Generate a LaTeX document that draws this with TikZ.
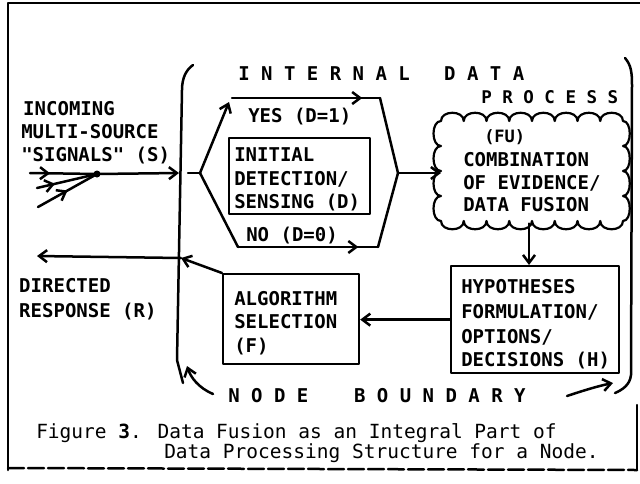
\documentclass[tikz,border=0pt]{standalone}
\usepackage{fontspec}
\newfontfamily\lab{DejaVu Sans Mono}[Ligatures=TeXOff]
\usetikzlibrary{arrows.meta,decorations.markings}
\begin{document}
\begin{tikzpicture}[x=1pt,y=-1pt,line width=2.5pt,line join=round,line cap=round,
  tipend/.style={-{Straight Barb[length=8pt,width=12pt]}},
  midtip/.style={postaction={decorate,decoration={markings,mark=at position #1 with {\arrow{Straight Barb[length=8pt,width=12pt]}}}}},
  lbl/.style={anchor=base west,inner sep=0pt,font=\lab\bfseries\fontsize{19}{23}\selectfont},
  captxt/.style={anchor=base west,inner sep=0pt,font=\lab\fontsize{19.5}{23}\selectfont},
  box/.style={draw,line width=2.2pt,inner sep=0pt,anchor=north west},
  area/.style={inner sep=0pt,anchor=north west}]
\useasboundingbox (0,0) rectangle (640,483);
% outer frame
\draw (8,470) -- (8,3) -- (640,3);
\draw (637,405) -- (637,470);
\draw[dash pattern=on 16pt off 4pt] (8,468) -- (637,470);
% node boundary brackets
\draw (193,65) .. controls (186,70) and (182,78) .. (182,90) -- (177,360) -- (183,383);
\draw (625,58) .. controls (631,65) and (632,72) .. (632,85) -- (631,375) .. controls (630,385) and (622,390) .. (615,393);
% texts
\node[lbl] (t1) at (22,115) {INCOMING};
\node[lbl] (t2) at (20,138) {MULTI-SOURCE};
\node[lbl] (t3) at (20,161) {"SIGNALS" (S)};
\node[lbl] (t4) at (237,80) {I N T E R N A L\ \ \ D A T A};
\node[lbl,font=\lab\bfseries\fontsize{17.5}{20}\selectfont] (t5) at (480,103) {P R O C E S S};
\node[lbl] (yes) at (247,122) {YES (D=1)};
\node[lbl] (no) at (245,241) {NO (D=0)};
\node[lbl] (d1) at (233,161) {INITIAL};
\node[lbl] (d2) at (233,185) {DETECTION/};
\node[lbl] (d3) at (233,208) {SENSING (D)};
\node[lbl,font=\lab\bfseries\fontsize{17}{20}\selectfont] (f0) at (483,142) {(FU)};
\node[lbl] (f1) at (462,166) {COMBINATION};
\node[lbl] (f2) at (462,189) {OF EVIDENCE/};
\node[lbl] (f3) at (462,211) {DATA FUSION};
\node[lbl] (h1) at (460,293) {HYPOTHESES};
\node[lbl] (h2) at (460,318) {FORMULATION/};
\node[lbl] (h3) at (460,343) {OPTIONS/};
\node[lbl] (h4) at (460,366) {DECISIONS (H)};
\node[lbl] (a1) at (233,305) {ALGORITHM};
\node[lbl] (a2) at (233,328) {SELECTION};
\node[lbl] (a3) at (233,352) {(F)};
\node[lbl] (r1) at (18,292) {DIRECTED};
\node[lbl] (r2) at (18,317) {RESPONSE (R)};
\node[lbl] (nb) at (227,402) {N O D E\ \ \ \ B O U N D A R Y};
\node[captxt] (c1) at (35,438) {Figure \textbf{3}. Data Fusion as an Integral Part of};
\node[captxt] (c2) at (163,458) {Data Processing Structure for a Node.};
% boxes
\node[box,minimum width=141pt,minimum height=76pt] (det) at (228,137) {};
\node[box,minimum width=136pt,minimum height=90pt] (alg) at (222,273) {};
\node[box,minimum width=168pt,minimum height=107pt] (hyp) at (450,265) {};
\node[area,minimum width=182pt,minimum height=100pt] (fu) at (441,121) {};
% scalloped outline of the fusion cloud
\draw[line width=2.2pt] (441,121)
  foreach \i in {0,...,7} { .. controls ({441+\i*22.75},110) and ({441+(\i+1)*22.75},110) .. ({441+(\i+1)*22.75},121) }
  foreach \j in {0,...,3} { .. controls (632,{121+\j*25}) and (632,{121+(\j+1)*25}) .. (623,{121+(\j+1)*25}) }
  foreach \i in {0,...,7} { .. controls ({623-\i*22.75},232) and ({623-(\i+1)*22.75},232) .. ({623-(\i+1)*22.75},221) }
  foreach \j in {0,...,3} { .. controls (431,{221-\j*25}) and (431,{221-(\j+1)*25}) .. (441,{221-(\j+1)*25}) }
  -- cycle;
% coordinates
\coordinate (s1) at (30,173);
\coordinate (s2) at (37,188);
\coordinate (s3) at (38,207);
\coordinate (J) at (97,174);
\coordinate (Bin) at (179,173);
\coordinate (Bout) at (188,173);
\coordinate (Br) at (200,173);
\coordinate (Yt) at (229,102);
\coordinate (Y1) at (232,98);
\coordinate (Y2) at (380,98);
\coordinate (N1) at (238,247);
\coordinate (N2) at (378,247);
\coordinate (M) at (398,173);
\coordinate (Bret) at (181,258);
\coordinate (Rend) at (37,256);
\coordinate (nbL1) at (213,394);
\coordinate (nbL2) at (187,366);
\coordinate (nbR1) at (567,396);
\coordinate (nbR2) at (613,383);
% incoming signals
\draw[midtip=0.3] (s1) -- (J);
\draw[midtip=0.3] (s2) -- (J);
\draw[midtip=0.5] (s3) -- (J);
\fill (J) circle (3.5pt);
\draw[tipend] (J) -- (Bin);
% detection branches
\draw (Bout) -- (Br);
\draw[tipend] (Br) -- (Yt);
\draw[midtip=0.88] (Y1) -- (Y2);
\draw (Y2) -- (M);
\draw (Br) -- (N1);
\draw[midtip=0.86] (N1) -- (N2);
\draw (N2) -- (M);
\draw[tipend] (M) -- (M -| fu.west);
% fusion to hypotheses to algorithm
\draw[tipend] (fu.south -| 529,0) -- (hyp.north -| 529,0);
\draw[tipend] (hyp.west) -- (hyp.west -| alg.east);
\draw[tipend] (alg.north west) -- (Bret);
\draw[tipend] (Bret) -- (Rend);
% node boundary arrows
\draw[tipend] (nbL1) .. controls (199,388) and (191,378) .. (nbL2);
\draw[tipend] (nbR1) .. controls (582,391) and (598,386) .. (nbR2);
\end{tikzpicture}
\end{document}
